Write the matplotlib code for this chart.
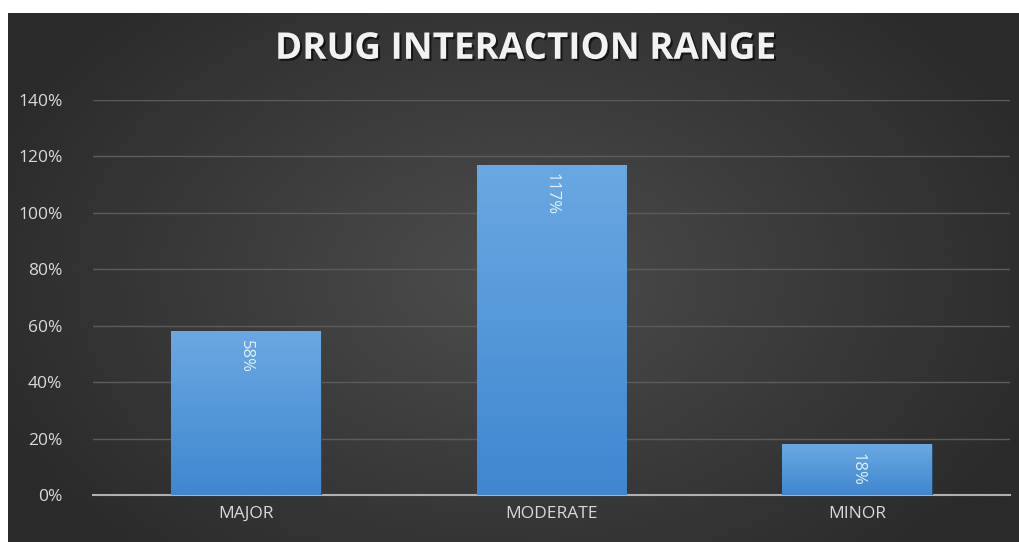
import matplotlib
matplotlib.use("Agg")
import matplotlib.pyplot as plt
import numpy as np
from matplotlib import patheffects

categories = ["MAJOR", "MODERATE", "MINOR"]
values = [58, 117, 18]
value_labels = ["58%", "117%", "18%"]
y_ticks = [0, 20, 40, 60, 80, 100, 120, 140]

W, H = 1019, 542
fig = plt.figure(figsize=(W / 100, H / 100), dpi=100, facecolor="white")

# dark background with a soft radial glow in the middle
bg = fig.add_axes([8 / W, 0, 1 - 8 / W, 1 - 13 / H])
bg.set_axis_off()
yy, xx = np.mgrid[-1:1:200j, -1:1:400j]
r = np.sqrt((xx * 0.9) ** 2 + (yy * 0.7) ** 2)
glow = np.clip(1 - r, 0, 1)
bg.imshow(0.17 + 0.13 * glow, cmap="gray", vmin=0, vmax=1, aspect="auto",
          extent=[0, 1, 0, 1], interpolation="bicubic")
bg.set_xlim(0, 1)
bg.set_ylim(0, 1)

ax = fig.add_axes([93 / W, 1 - 495 / H, (1010 - 93) / W, (495 - 100) / H])
ax.patch.set_alpha(0)

x = np.arange(len(categories))
bars = ax.bar(x, values, width=0.49, color="#5599dc", zorder=3,
              edgecolor="#2c4a6a", linewidth=0.8)

# vertical gradient inside each bar
grad = np.linspace(0, 1, 100).reshape(-1, 1)
cmap = matplotlib.colors.LinearSegmentedColormap.from_list("b", ["#3f87cf", "#6aa8e2"])
for b in bars:
    im = ax.imshow(grad, cmap=cmap, aspect="auto", origin="lower", zorder=3.5,
                   extent=[b.get_x(), b.get_x() + b.get_width(), 0, b.get_height()])
    im.set_clip_path(b)

for xi, v, lab in zip(x, values, value_labels):
    ax.text(xi, v - 3, lab, rotation=270, ha="center", va="top",
            color="#e4eef8", fontsize=12, family="Open Sans", zorder=5)

ax.set_xlim(-0.5, 2.5)
ax.set_ylim(0, 140)
ax.set_yticks(y_ticks)
ax.set_yticklabels([f"{t}%" for t in y_ticks])
ax.set_xticks(x)
ax.set_xticklabels(categories)
ax.grid(axis="y", color="#5c5c5c", linewidth=1, zorder=0)
ax.tick_params(length=0, colors="#d9d9d9", labelsize=12.5, pad=8)
ax.tick_params(axis="y", pad=22)
for lab in ax.get_xticklabels() + ax.get_yticklabels():
    lab.set_family("Open Sans")
for s in ["top", "right", "left"]:
    ax.spines[s].set_visible(False)
ax.spines["bottom"].set_color("#b0b0b0")
ax.spines["bottom"].set_linewidth(1.5)

fig.text(0.515, 0.91, "DRUG INTERACTION RANGE", ha="center", va="center",
         color="#f2f2f2", fontsize=26.5, fontweight="bold", family="Open Sans",
         path_effects=[patheffects.withSimplePatchShadow(offset=(1.5, -1.5),
                                                         shadow_rgbFace="black", alpha=0.6)])

fig.savefig("out.png", dpi=100, facecolor="white")
